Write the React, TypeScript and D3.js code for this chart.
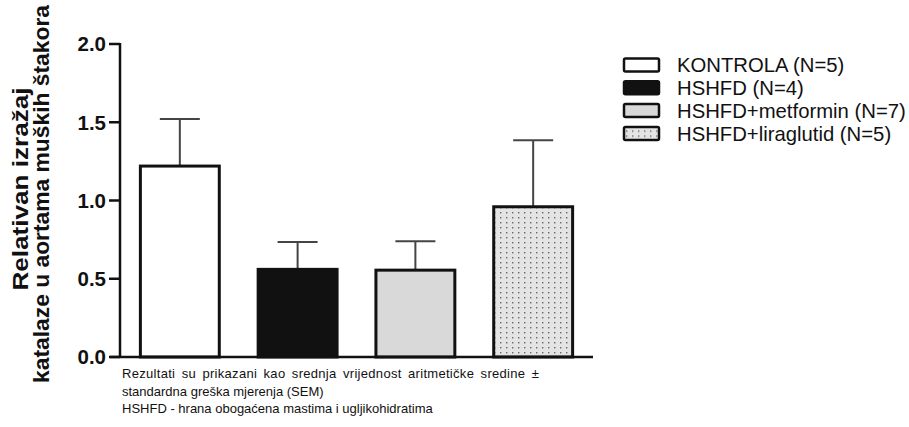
import React from 'react';
import * as d3 from 'd3';

const groups = ['KONTROLA (N=5)', 'HSHFD (N=4)', 'HSHFD+metformin (N=7)', 'HSHFD+liraglutid (N=5)'];
const means = [1.22, 0.56, 0.555, 0.96];
const sems = [0.3, 0.175, 0.185, 0.425];
const fills = ['#ffffff', '#111111', '#d9d9d9', 'url(#dots)'];
const yTicks = [0, 0.5, 1, 1.5, 2];
const yTitle = ['Relativan izražaj', 'katalaze u aortama muških štakora'];
const notes = [
  'Rezultati su prikazani kao srednja vrijednost aritmetičke sredine ±',
  'standardna greška mjerenja (SEM)',
  'HSHFD - hrana obogaćena mastima i ugljikohidratima',
];

const font = "Arial, 'Liberation Sans', sans-serif";

const App = (): React.ReactElement => {
  const x = d3.scaleBand<string>().domain(groups).range([120, 593]).paddingInner(0.33).paddingOuter(0.173);
  const y = d3.scaleLinear().domain([0, 2]).range([357, 44]);
  const bw = x.bandwidth();

  return (
    <svg width={909} height={427} style={{ position: 'absolute', left: 0, top: 0, background: '#fff' }} fontFamily={font}>
      <defs>
        <pattern id="dots" width={6} height={5} patternUnits="userSpaceOnUse">
          <rect width={6} height={5} fill="#e4e4e4" />
          <rect x={2} y={2} width={1.4} height={1.4} fill="#666" />
        </pattern>
      </defs>

      {/* y title, stretched along its length like the reference */}
      {yTitle.map((t, i) => (
        <text
          key={t}
          transform={`translate(${i === 0 ? 28 : 49},${i === 0 ? 189 : 194}) rotate(-90)`}
          textAnchor="middle"
          fontWeight="bold"
          fontSize={21.5}
          fill="#111"
          textLength={i === 0 ? 203 : 378}
          lengthAdjust="spacingAndGlyphs"
        >
          {t}
        </text>
      ))}

      {/* bars */}
      {groups.map((g, i) => (
        <g key={g}>
          <line
            x1={x(g)! + bw / 2}
            x2={x(g)! + bw / 2}
            y1={y(means[i])}
            y2={y(means[i] + sems[i])}
            stroke="#444"
            strokeWidth={2}
          />
          <line
            x1={x(g)! + bw / 2 - 20}
            x2={x(g)! + bw / 2 + 20}
            y1={y(means[i] + sems[i])}
            y2={y(means[i] + sems[i])}
            stroke="#444"
            strokeWidth={2}
          />
          <rect
            x={x(g)}
            y={y(means[i])}
            width={bw}
            height={y(0) - y(means[i])}
            fill={fills[i]}
            stroke="#111"
            strokeWidth={3}
          />
        </g>
      ))}

      {/* axes */}
      <line x1={120} x2={120} y1={y(2) - 1} y2={y(0)} stroke="#111" strokeWidth={2.5} />
      <line x1={110} x2={593} y1={y(0)} y2={y(0)} stroke="#111" strokeWidth={2.5} />
      {yTicks.map((t) => (
        <g key={t}>
          <line x1={109} x2={120} y1={y(t)} y2={y(t)} stroke="#111" strokeWidth={2.5} />
          <text x={106} y={y(t)} dy="0.36em" textAnchor="end" fontWeight="bold" fontSize={20.5} fill="#111">
            {t.toFixed(1)}
          </text>
        </g>
      ))}

      {/* footnote (first line justified) */}
      {notes.map((n, i) => (
        <text
          key={n}
          x={122}
          y={378 + i * 17.5}
          fontSize={13}
          fill="#111"
          wordSpacing={i === 0 ? 2.5 : 0}
          letterSpacing={i === 0 ? 0.3 : 0}
        >
          {n}
        </text>
      ))}

      {/* legend */}
      {groups.map((g, i) => (
        <g key={g} transform={`translate(0,${65 + i * 22.8})`}>
          <rect x={624} y={-6.5} width={35} height={13} rx={1.5} fill={fills[i]} stroke="#111" strokeWidth={2.5} />
          <text x={677} y={0} dy="0.36em" fontSize={20.3} fill="#111">
            {g}
          </text>
        </g>
      ))}
    </svg>
  );
};

export default App;
